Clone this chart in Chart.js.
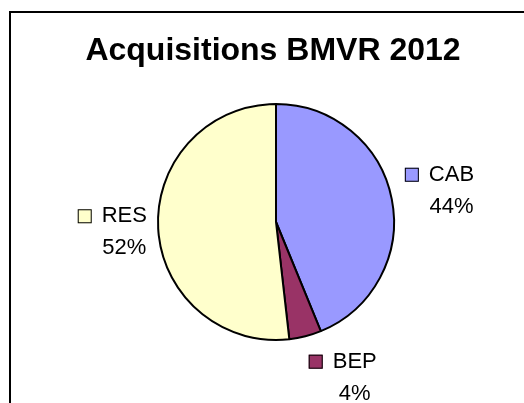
<!DOCTYPE html>
<html>
<head>
<meta charset="utf-8">
<script src="https://cdn.jsdelivr.net/npm/chart.js@4"></script>
<style>
    html, body { margin: 0; padding: 0; background: #fff; }
    #wrap { width: 524px; height: 403px; }
</style>
</head>
<body>
<div id="wrap"><canvas id="pieChart" width="524" height="403"></canvas></div>
<script>
const titleText = 'Acquisitions BMVR 2012';
const categories = ['CAB', 'BEP', 'RES'];
const shares = [43.8, 4.4, 51.8];
const sliceColors = ['#9999FF', '#993366', '#FFFFCC'];

const labelFont = '22px Arial, "Liberation Sans", sans-serif';

// frame + title, drawn like the spreadsheet chart box
const framePlugin = {
    id: 'frame',
    beforeDraw(chart) {
        const ctx = chart.ctx;
        ctx.save();
        ctx.strokeStyle = '#000';
        ctx.lineWidth = 2;
        ctx.beginPath();
        ctx.moveTo(10, chart.height);
        ctx.lineTo(10, 12);
        ctx.lineTo(chart.width, 12);
        ctx.stroke();

        ctx.fillStyle = '#000';
        ctx.font = 'bold 32px Arial, "Liberation Sans", sans-serif';
        ctx.textAlign = 'center';
        ctx.textBaseline = 'alphabetic';
        ctx.fillText(titleText, 273, 60);
        ctx.restore();
    }
};

// category + percent labels outside each slice, with a small colour key
const sliceLabels = {
    id: 'sliceLabels',
    afterDatasetsDraw(chart, args, opts) {
        const ctx = chart.ctx;
        const meta = chart.getDatasetMeta(0);
        const total = shares.reduce((a, b) => a + b, 0);
        const key = 14, keyGap = 10, lineH = 32;

        ctx.save();
        ctx.font = labelFont;
        ctx.textBaseline = 'alphabetic';
        ctx.textAlign = 'center';

        meta.data.forEach((arc, i) => {
            const p = arc.getProps(['x', 'y', 'startAngle', 'endAngle', 'outerRadius'], true);
            const mid = (p.startAngle + p.endAngle) / 2;
            const ux = Math.cos(mid), uy = Math.sin(mid);

            const line1 = categories[i];
            const line2 = Math.round(shares[i] / total * 100) + '%';
            const w1 = ctx.measureText(line1).width;
            const w2 = ctx.measureText(line2).width;
            const w = key + keyGap + Math.max(w1, w2);
            const h = 48;

            const d = p.outerRadius + 10 + (w / 2) * Math.abs(ux) + (h / 2) * Math.abs(uy);
            const nudge = (opts.nudge && opts.nudge[i]) || [0, 0];
            const cx = p.x + ux * d + nudge[0];
            const cy = p.y + uy * d + nudge[1];

            const textX = cx - w / 2 + key + keyGap + Math.max(w1, w2) / 2;
            const base1 = cy - 9;
            const base2 = base1 + lineH;

            ctx.fillStyle = '#000';
            ctx.fillText(line1, textX, base1);
            ctx.fillText(line2, textX, base2);

            const kx = textX - w1 / 2 - keyGap - key;
            const ky = base1 - key + 1;
            ctx.fillStyle = sliceColors[i];
            ctx.fillRect(kx, ky, key, key);
            ctx.strokeStyle = '#000';
            ctx.lineWidth = 1;
            ctx.strokeRect(kx + 0.5, ky + 0.5, key - 1, key - 1);
        });
        ctx.restore();
    }
};

new Chart(document.getElementById('pieChart'), {
    type: 'pie',
    data: {
        labels: categories,
        datasets: [{
            data: shares,
            backgroundColor: sliceColors,
            borderColor: '#000',
            borderWidth: 2
        }]
    },
    options: {
        responsive: false,
        animation: false,
        events: [],
        layout: {
            padding: { top: 103, bottom: 62, left: 157, right: 129 }
        },
        plugins: {
            legend: { display: false },
            title: { display: false },
            tooltip: { enabled: false },
            sliceLabels: {
                nudge: [[0, 0], [27, 0], [0, 0]]
            }
        }
    },
    plugins: [framePlugin, sliceLabels]
});
</script>
</body>
</html>
